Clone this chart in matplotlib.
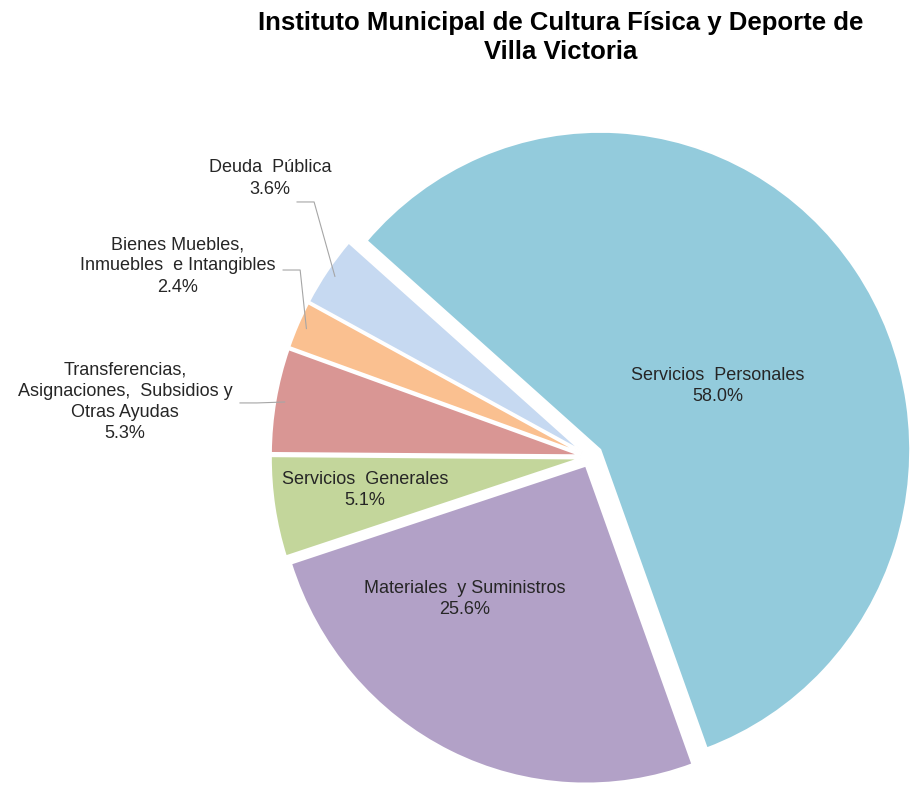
import matplotlib
matplotlib.use("Agg")
import matplotlib.pyplot as plt
import numpy as np

plt.rcParams['font.family'] = ['Liberation Sans', 'DejaVu Sans']

# data (Excel order, clockwise)
categorias = ['Servicios  Personales', 'Materiales  y Suministros', 'Servicios  Generales',
              'Transferencias,\nAsignaciones,  Subsidios y\nOtras Ayudas',
              'Bienes Muebles,\nInmuebles  e Intangibles', 'Deuda  Pública']
valores = [58.0, 25.6, 5.1, 5.3, 2.4, 3.6]
colores = ['#93CBDC', '#B2A1C7', '#C3D69B', '#D99694', '#FAC090', '#C6D9F1']
separacion = [0.04, 0.03, 0.03, 0.03, 0.03, 0.03]

titulo = 'Instituto Municipal de Cultura Física y Deporte de\nVilla Victoria'

# label layout (data coords)
pos_etiquetas = [(0.413, 0.223), (-0.403, -0.447), (-0.726, -0.104),
                 (-1.50, 0.173), (-1.329, 0.601), (-1.032, 0.876)]
# start of the leader line (None = label inside the slice)
inicio_guia = [None, None, None, (-1.129, 0.170), (-0.990, 0.588), (-0.945, 0.802)]

fig = plt.figure(figsize=(9.11, 7.92), dpi=100)
ax = fig.add_axes([0, 0, 1, 1])

wedges, _ = ax.pie(valores, colors=colores, explode=separacion, startangle=138.9,
                   counterclock=False, radius=1.0,
                   wedgeprops=dict(edgecolor='white', linewidth=1.5))

# the original picture is a bit squashed horizontally
ax.set_aspect('auto')
ax.set_xlim(-590 / 310, (911 - 590) / 310)
ax.set_ylim((457 - 792) / 318, 457 / 318)
ax.axis('off')

for w, cat, v, (tx, ty), guia in zip(wedges, categorias, valores, pos_etiquetas, inicio_guia):
    ax.text(tx, ty, f'{cat}\n{v:.1f}%', ha='center', va='center', fontsize=13,
            color='#262626', linespacing=1.33)
    if guia is not None:
        ang = np.deg2rad((w.theta1 + w.theta2) / 2)
        cx, cy = w.center
        ex = cx + 0.97 * w.r * np.cos(ang)
        ey = cy + 0.97 * w.r * np.sin(ang)
        sx, sy = guia
        ax.plot([sx, sx + 0.055, ex], [sy, sy, ey], color='#A6A6A6', lw=0.8)

fig.text(0.615, 1 - 11 / 792, titulo, ha='center', va='top', fontsize=18.5,
         fontweight='bold', color='black', linespacing=1.28)

fig.savefig('out.png', dpi=100)
